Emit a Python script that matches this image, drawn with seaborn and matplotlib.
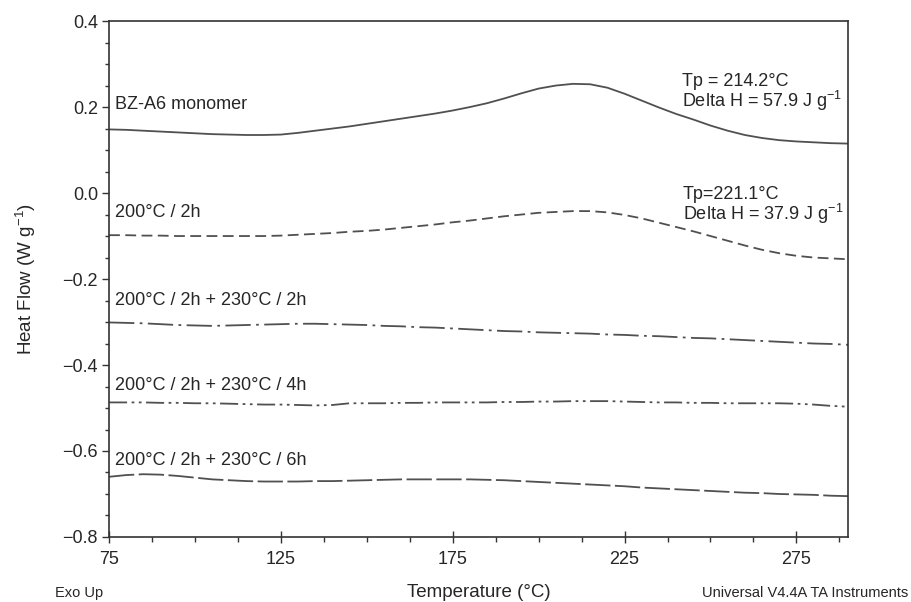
import matplotlib
matplotlib.use('Agg')
import matplotlib.pyplot as plt
from matplotlib.ticker import MultipleLocator, FuncFormatter
import seaborn as sns
import pandas as pd

# temperature grid (°C) shared by all DSC runs
temps = [75, 80, 85, 90, 95, 100, 105, 110, 115, 120, 125, 130, 135, 140, 145,
         150, 155, 160, 165, 170, 175, 180, 185, 190, 195, 200, 205, 210, 215,
         220, 225, 230, 235, 240, 245, 250, 255, 260, 265, 270, 275, 280, 285, 290]

monomer = [0.148, 0.147, 0.145, 0.143, 0.141, 0.139, 0.137, 0.136, 0.135, 0.135,
           0.136, 0.140, 0.145, 0.150, 0.155, 0.161, 0.167, 0.173, 0.179, 0.185,
           0.192, 0.200, 0.209, 0.220, 0.232, 0.243, 0.250, 0.254, 0.253, 0.245,
           0.231, 0.215, 0.199, 0.184, 0.171, 0.157, 0.145, 0.135, 0.128, 0.123,
           0.120, 0.118, 0.116, 0.115]
cure_2h = [-0.098, -0.098, -0.099, -0.099, -0.100, -0.100, -0.100, -0.100, -0.100,
           -0.100, -0.099, -0.097, -0.095, -0.093, -0.090, -0.088, -0.085, -0.081,
           -0.077, -0.073, -0.068, -0.064, -0.059, -0.054, -0.050, -0.046, -0.044,
           -0.042, -0.042, -0.045, -0.051, -0.059, -0.069, -0.079, -0.089, -0.100,
           -0.111, -0.122, -0.132, -0.140, -0.146, -0.150, -0.152, -0.154]
post_2h = [-0.301, -0.302, -0.303, -0.305, -0.307, -0.308, -0.309, -0.308, -0.307,
           -0.306, -0.305, -0.304, -0.304, -0.305, -0.306, -0.307, -0.309, -0.310,
           -0.312, -0.313, -0.315, -0.317, -0.319, -0.321, -0.322, -0.324, -0.325,
           -0.326, -0.327, -0.329, -0.330, -0.332, -0.333, -0.335, -0.337, -0.338,
           -0.340, -0.342, -0.344, -0.346, -0.348, -0.350, -0.351, -0.353]
post_4h = [-0.487, -0.487, -0.487, -0.488, -0.488, -0.489, -0.489, -0.490, -0.491,
           -0.492, -0.492, -0.493, -0.494, -0.493, -0.489, -0.489, -0.489, -0.488,
           -0.488, -0.487, -0.487, -0.487, -0.487, -0.486, -0.486, -0.485, -0.485,
           -0.484, -0.484, -0.484, -0.485, -0.486, -0.487, -0.487, -0.488, -0.488,
           -0.489, -0.489, -0.489, -0.489, -0.490, -0.492, -0.495, -0.497]
post_6h = [-0.660, -0.656, -0.654, -0.655, -0.658, -0.662, -0.666, -0.668, -0.670,
           -0.671, -0.671, -0.671, -0.670, -0.670, -0.669, -0.668, -0.667, -0.666,
           -0.666, -0.666, -0.666, -0.666, -0.667, -0.668, -0.670, -0.672, -0.674,
           -0.676, -0.678, -0.680, -0.682, -0.685, -0.687, -0.689, -0.691, -0.693,
           -0.695, -0.697, -0.698, -0.700, -0.701, -0.702, -0.704, -0.705]

samples = ['BZ-A6 monomer', '200°C / 2h', '200°C / 2h + 230°C / 2h',
           '200°C / 2h + 230°C / 4h', '200°C / 2h + 230°C / 6h']
label_y = [0.205, -0.045, -0.251, -0.448, -0.622]

xticks = [75, 125, 175, 225, 275]

rows = []
for name, vals in zip(samples, [monomer, cure_2h, post_2h, post_4h, post_6h]):
    for t, v in zip(temps, vals):
        rows.append({'Temperature': t, 'HeatFlow': v, 'Sample': name})
df = pd.DataFrame(rows)

dashes = {
    samples[0]: '',
    samples[1]: (6, 3),
    samples[2]: (14, 3, 1.5, 3),
    samples[3]: (10, 2.5, 1.5, 2.5, 1.5, 2.5),
    samples[4]: (14, 2.5),
}

sns.set_theme(style='ticks')
plt.rcParams['font.family'] = ['Liberation Sans', 'DejaVu Sans']
plt.rcParams['mathtext.default'] = 'regular'

fig = plt.figure(figsize=(9.11, 6.02), dpi=100)
ax = fig.add_axes([0.1197, 0.108, 0.8111, 0.857])

sns.lineplot(data=df, x='Temperature', y='HeatFlow', style='Sample',
             dashes=dashes, color='#505050', linewidth=1.3, legend=False,
             estimator=None, sort=True, ax=ax)

for name, y in zip(samples, label_y):
    ax.text(76.7, y, name, fontsize=13, va='center', ha='left')

ax.text(241.7, 0.259, 'Tp = 214.2°C', fontsize=13, va='center')
ax.text(241.7, 0.215, 'Delta H = 57.9 J g$^{-1}$', fontsize=13, va='center')
ax.text(241.9, -0.004, 'Tp=221.1°C', fontsize=13, va='center')
ax.text(241.9, -0.048, 'Delta H = 37.9 J g$^{-1}$', fontsize=13, va='center')

ax.set_xlim(75, 290)
ax.set_ylim(-0.8, 0.4)
ax.set_xticks(xticks)
ax.xaxis.set_minor_locator(MultipleLocator(12.5))
ax.yaxis.set_major_locator(MultipleLocator(0.2))
ax.yaxis.set_minor_locator(MultipleLocator(0.05))
ax.yaxis.set_major_formatter(FuncFormatter(lambda v, p: f'{v:.1f}'.replace('-', '\u2212')))

ax.tick_params(axis='x', which='major', direction='inout', length=8, width=1,
               labelsize=13, pad=6, color='#333333')
ax.tick_params(axis='x', which='minor', direction='out', length=3.5, width=1,
               color='#333333')
ax.tick_params(axis='y', which='major', direction='out', length=5, width=1,
               labelsize=13, pad=3, color='#333333')
ax.tick_params(axis='y', which='minor', direction='out', length=3, width=1,
               color='#333333')
for sp in ax.spines.values():
    sp.set_color('#333333')
    sp.set_linewidth(1.2)

ax.set_xlabel('Temperature (°C)', fontsize=13.5)
ax.xaxis.set_label_coords(0.5, -0.108)
ax.xaxis.label.set_va('center')
ax.set_ylabel('Heat Flow (W g$^{-1}$)', fontsize=13.5)
ax.yaxis.set_label_coords(-0.112, 0.5)
ax.yaxis.label.set_va('center')

fig.text(55 / 911, 1 - 593 / 602, 'Exo Up', fontsize=10.5, va='center', ha='left')
fig.text(908 / 911, 1 - 593 / 602, 'Universal V4.4A TA Instruments', fontsize=10.5,
         va='center', ha='right')

fig.savefig('out.png', dpi=100)
